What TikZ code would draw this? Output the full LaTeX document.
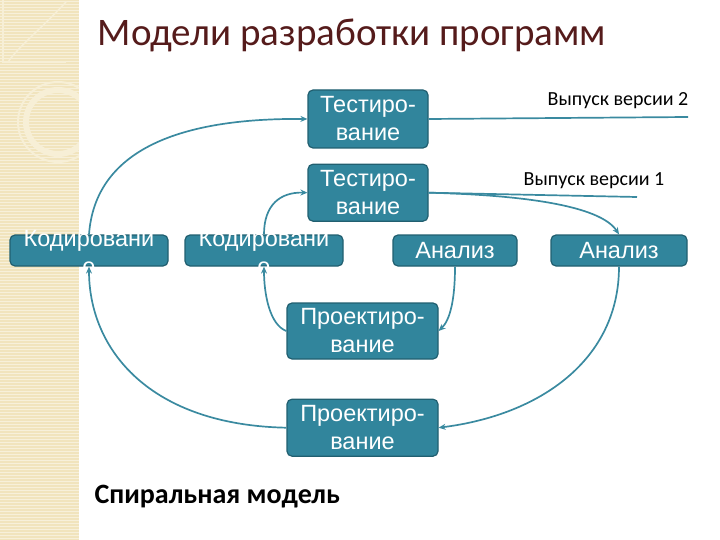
\documentclass[tikz,border=0pt]{standalone}
\usepackage{fontspec}
\setmainfont{Carlito}
\newfontfamily\boxfont{Liberation Sans}
\usetikzlibrary{arrows.meta,positioning,calc}

\definecolor{stagefill}{HTML}{31859C}
\definecolor{stageline}{HTML}{215F70}
\definecolor{flowline}{HTML}{3A8AA0}
\definecolor{titlered}{HTML}{551B1B}
\definecolor{stripfill}{HTML}{F1E4BD}
\definecolor{stripring}{HTML}{F7EFD6}

\begin{document}
\begin{tikzpicture}[
        x=1pt, y=-1pt,
        stage/.style={rectangle, draw=stageline, line width=1.2pt, fill=stagefill, rounded corners=5pt, inner sep=0pt},
        stagetext/.style={text=white, align=center, inner sep=0pt, font=\boxfont\fontsize{23.5}{28}\selectfont},
        release/.style={font=\fontsize{20}{22}\selectfont},
        flow/.style={-{Stealth[length=7pt, width=6pt]}, line width=1.7pt, draw=flowline},
        plain/.style={line width=1.7pt, draw=flowline}
    ]
        \useasboundingbox (0,0) rectangle (720,540);

        % Decorative strip
        \fill[stripfill] (0,0) rectangle (79,540);
        \foreach \y in {1,4,...,540}
            \draw[white, opacity=0.45, line width=0.6pt] (0,\y) -- (79,\y);
        \draw[stripring, line width=1.5pt] (3,0) -- (3,62) -- (66,62);
        \draw[stripring, line width=1.5pt] (66,2) .. controls (40,30) and (20,45) .. (8,62);
        \begin{scope}
            \clip (0,0) rectangle (79,540);
            \draw[stripring, line width=6pt] (58,122) circle (32);
            \draw[stripring, line width=2pt] (58,122) circle (40);
        \end{scope}

        % Title
        \node[text=titlered, font=\fontsize{39}{42}\selectfont] (title) at (352,35) {Модели разработки программ};

        % Testing stages
        \node[stage, minimum width=120, minimum height=58] (test2) at (368,119) {};
        \node[stagetext] at (test2) {Тестиро-\\вание};
        \node[stage, minimum width=120, minimum height=57, below=15pt of test2] (test1) {};
        \node[stagetext] at (test1) {Тестиро-\\вание};

        % Coding stages
        \node[stage, minimum width=158, minimum height=31, label={[stagetext, yshift=-2pt]center:Кодировани\\е}] (cod1) at (89,250.5) {};
        \node[stage, minimum width=158, minimum height=31, label={[stagetext, yshift=-2pt]center:Кодировани\\е}] (cod2) at (264,250.5) {};

        % Analysis stages
        \node[stage, minimum width=124, minimum height=31] (an1) at (455,250.5) {};
        \node[stagetext] at (an1) {Анализ};
        \node[stage, minimum width=136, minimum height=31] (an2) at (619,250.5) {};
        \node[stagetext] at (an2) {Анализ};

        % Design stages
        \node[stage, minimum width=151, minimum height=56] (proj1) at (362.5,331) {};
        \node[stagetext] at (proj1) {Проектиро-\\вание};
        \node[stage, minimum width=151, minimum height=57, below=39pt of proj1] (proj2) {};
        \node[stagetext] at (proj2) {Проектиро-\\вание};

        % Releases
        \node[release] (rel2) at (618,101) {Выпуск версии 2};
        \node[release] (rel1) at (594,181) {Выпуск версии 1};
        \coordinate (rel2end) at (688,117);
        \coordinate (rel1end) at (637,197);

        % Caption
        \node[font=\bfseries\fontsize{28}{30}\selectfont, anchor=west] (caption) at (91,497) {Спиральная модель};

        % Connections
        \draw[plain] (test2.east) -- (rel2end);
        \draw[plain] (test1.east) -- (rel1end);
        \draw[flow] (test1.east) .. controls (520,195) and (600,205) .. (an2.north);
        \draw[flow] (an2.south) .. controls (619,360) and (540,415) .. (proj2.east);
        \draw[flow] (proj2.west) .. controls (150,425) and (89,350) .. (cod1.south);
        \draw[flow] (cod1.north) .. controls (96,140) and (200,118) .. (test2.west);
        \draw[flow] (an1.south) .. controls (455,300) and (450,320) .. (proj1.east);
        \draw[flow] (proj1.west) .. controls (270,325) and (264,295) .. (cod2.south);
        \draw[flow] (cod2.north) .. controls (264,205) and (280,192) .. (test1.west);
    \end{tikzpicture}
\end{document}
